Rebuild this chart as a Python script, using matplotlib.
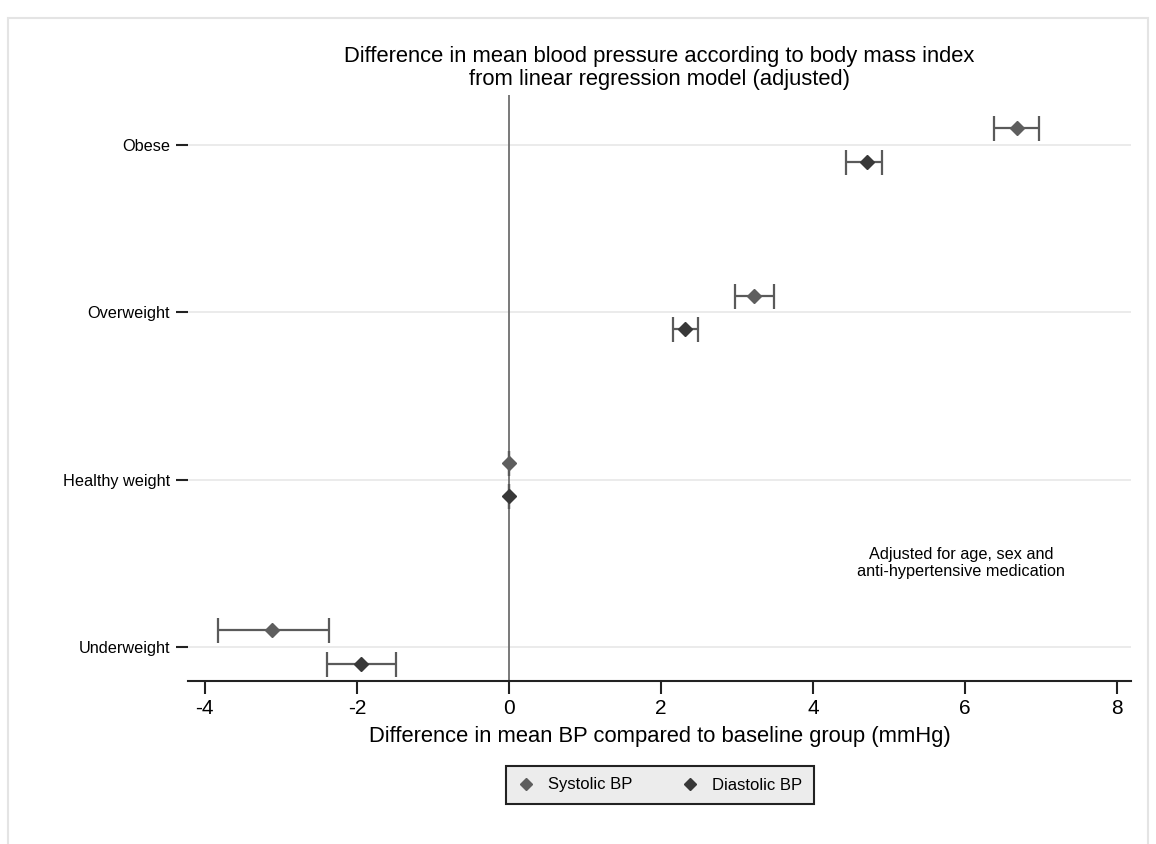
import matplotlib.pyplot as plt
from matplotlib.patches import Rectangle
from matplotlib.lines import Line2D

plt.rcParams['font.family'] = ['Liberation Sans', 'DejaVu Sans']
plt.rcParams['axes.unicode_minus'] = False

categories = ['Underweight', 'Healthy weight', 'Overweight', 'Obese']
systolic = [-3.11, 0.0, 3.22, 6.68]
systolic_lo = [-3.83, 0.0, 2.97, 6.38]
systolic_hi = [-2.37, 0.0, 3.48, 6.97]
diastolic = [-1.95, 0.0, 2.32, 4.71]
diastolic_lo = [-2.39, 0.0, 2.16, 4.43]
diastolic_hi = [-1.49, 0.0, 2.48, 4.90]

SYS_COLOR = '#5e5e5e'
DIA_COLOR = '#383838'
BAR_COLOR = '#5a5a5a'

fig = plt.figure(figsize=(11.56, 8.44), dpi=100)
fig.patches.append(Rectangle((8 / 1156, -0.01), 1140 / 1156, 1 - 18 / 844 + 0.01,
                             transform=fig.transFigure, fill=False,
                             edgecolor='#e4e4e4', linewidth=1.5))
ax = fig.add_axes([188 / 1156, 1 - 681 / 844, (1131 - 188) / 1156, (681 - 95) / 844])

pos = list(range(1, len(categories) + 1))
off = 0.1

for p in pos:
    ax.axhline(p, color='#e8e8e8', linewidth=1.2, zorder=0)

ax.axvline(0, color='#6e6e6e', linewidth=1.3, zorder=1)

sys_err = [[v - lo for v, lo in zip(systolic, systolic_lo)],
           [hi - v for v, hi in zip(systolic, systolic_hi)]]
dia_err = [[v - lo for v, lo in zip(diastolic, diastolic_lo)],
           [hi - v for v, hi in zip(diastolic, diastolic_hi)]]

ax.errorbar(systolic, [p + off for p in pos], xerr=sys_err, fmt='none',
            ecolor=BAR_COLOR, elinewidth=1.6, capsize=9, capthick=1.6, zorder=2)
ax.errorbar(diastolic, [p - off for p in pos], xerr=dia_err, fmt='none',
            ecolor=BAR_COLOR, elinewidth=1.6, capsize=9, capthick=1.6, zorder=2)
ax.plot(systolic, [p + off for p in pos], 'D', color=SYS_COLOR, markersize=7, zorder=3)
ax.plot(diastolic, [p - off for p in pos], 'D', color=DIA_COLOR, markersize=7, zorder=3)

ax.set_xlim(-4.22, 8.18)
ax.set_ylim(0.796, 4.3)
ax.set_xticks([-4, -2, 0, 2, 4, 6, 8])
ax.set_yticks(pos)
ax.set_yticklabels(categories, fontsize=11.7)
ax.tick_params(axis='x', labelsize=15, length=9, width=1.5, color='#222222', pad=4)
ax.tick_params(axis='y', length=9, width=1.5, color='#222222', pad=4)

for s in ['top', 'right', 'left']:
    ax.spines[s].set_visible(False)
ax.spines['bottom'].set_linewidth(1.5)
ax.spines['bottom'].set_color('#222222')

ax.set_xlabel('Difference in mean BP compared to baseline group (mmHg)', fontsize=15.8, labelpad=6)
ax.set_title('Difference in mean blood pressure according to body mass index\n'
             'from linear regression model (adjusted)', fontsize=15.8, pad=7,
             linespacing=1.15)

ax.text(5.95, 1.50, 'Adjusted for age, sex and\nanti-hypertensive medication',
        ha='center', va='center', fontsize=11.7, linespacing=1.15)

handles = [Line2D([], [], marker='D', color=SYS_COLOR, linestyle='none', markersize=6),
           Line2D([], [], marker='D', color=DIA_COLOR, linestyle='none', markersize=6)]
leg = fig.legend(handles, ['Systolic BP', 'Diastolic BP'], loc='center',
                 bbox_to_anchor=(660 / 1156, 1 - 785 / 844), ncol=2, fontsize=12,
                 frameon=True, fancybox=False, handletextpad=0.8, columnspacing=3.0,
                 borderpad=0.7, handlelength=1.0)
leg.get_frame().set_facecolor('#ececec')
leg.get_frame().set_edgecolor('#222222')
leg.get_frame().set_linewidth(1.5)
leg.get_frame().set_alpha(1)

fig.savefig('out.png', dpi=100)
